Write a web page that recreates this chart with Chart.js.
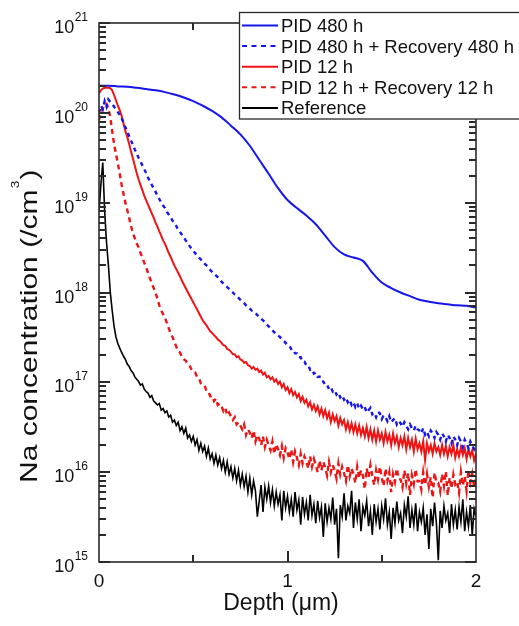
<!DOCTYPE html>
<html>
<head>
<meta charset="utf-8">
<script src="https://cdn.jsdelivr.net/npm/chart.js@4/dist/chart.umd.min.js"></script>
<style>
  html, body { margin: 0; padding: 0; background: #fff; }
  canvas { display: block; }
</style>
</head>
<body>
<canvas id="naChart" width="519" height="626"></canvas>
<script>
// depth grid (um) shared by the SIMS profiles
const depth = [
  0.00, 0.01, 0.02, 0.03, 0.04, 0.05, 0.06, 0.07, 0.08, 0.09,
  0.10, 0.11, 0.12, 0.13, 0.14, 0.15, 0.16, 0.17, 0.18, 0.19,
  0.20, 0.21, 0.22, 0.23, 0.24, 0.25, 0.26, 0.27, 0.28, 0.29,
  0.30, 0.31, 0.32, 0.33, 0.34, 0.35, 0.36, 0.37, 0.38, 0.39,
  0.40, 0.41, 0.42, 0.43, 0.44, 0.45, 0.46, 0.47, 0.48, 0.49,
  0.50, 0.51, 0.52, 0.53, 0.54, 0.55, 0.56, 0.57, 0.58, 0.59,
  0.60, 0.61, 0.62, 0.63, 0.64, 0.65, 0.66, 0.67, 0.68, 0.69,
  0.70, 0.71, 0.72, 0.73, 0.74, 0.75, 0.76, 0.77, 0.78, 0.79,
  0.80, 0.81, 0.82, 0.83, 0.84, 0.85, 0.86, 0.87, 0.88, 0.89,
  0.90, 0.91, 0.92, 0.93, 0.94, 0.95, 0.96, 0.97, 0.98, 0.99,
  1.00, 1.01, 1.02, 1.03, 1.04, 1.05, 1.06, 1.07, 1.08, 1.09,
  1.10, 1.11, 1.12, 1.13, 1.14, 1.15, 1.16, 1.17, 1.18, 1.19,
  1.20, 1.21, 1.22, 1.23, 1.24, 1.25, 1.26, 1.27, 1.28, 1.29,
  1.30, 1.31, 1.32, 1.33, 1.34, 1.35, 1.36, 1.37, 1.38, 1.39,
  1.40, 1.41, 1.42, 1.43, 1.44, 1.45, 1.46, 1.47, 1.48, 1.49,
  1.50, 1.51, 1.52, 1.53, 1.54, 1.55, 1.56, 1.57, 1.58, 1.59,
  1.60, 1.61, 1.62, 1.63, 1.64, 1.65, 1.66, 1.67, 1.68, 1.69,
  1.70, 1.71, 1.72, 1.73, 1.74, 1.75, 1.76, 1.77, 1.78, 1.79,
  1.80, 1.81, 1.82, 1.83, 1.84, 1.85, 1.86, 1.87, 1.88, 1.89,
  1.90, 1.91, 1.92, 1.93, 1.94, 1.95, 1.96, 1.97, 1.98, 1.99,
  2.00
];

// PID 480 h is smooth, so it only needs a coarse grid
const depthPid480 = [
  0.00, 0.05, 0.10, 0.15, 0.20, 0.25, 0.30, 0.35, 0.40, 0.45,
  0.50, 0.55, 0.60, 0.65, 0.70, 0.75, 0.80, 0.85, 0.90, 0.95,
  1.00, 1.05, 1.10, 1.15, 1.20, 1.25, 1.30, 1.35, 1.40, 1.45,
  1.50, 1.55, 1.60, 1.65, 1.70, 1.75, 1.80, 1.85, 1.90, 1.95,
  2.00
];

// Na concentration (/cm3)
const naPid480 = [
  2.0e20, 2.0e20, 1.97e20, 1.95e20, 1.9e20, 1.84e20, 1.78e20, 1.7e20, 1.6e20, 1.48e20,
  1.35e20, 1.2e20, 1.05e20, 8.9e19, 7.2e19, 5.75e19, 4.3e19, 3.0e19, 2.1e19, 1.45e19,
  1.07e19, 8.7e18, 7.2e18, 5.75e18, 4.3e18, 3.2e18, 2.65e18, 2.45e18, 2.25e18, 1.66e18,
  1.29e18, 1.12e18, 1.0e18, 9.1e17, 8.3e17, 7.9e17, 7.6e17, 7.4e17, 7.2e17, 7.1e17,
  6.8e17
];

const naPid480Rec = [
  1.0e20, 1.2e20, 1.1e20, 1.35e20, 1.17e20, 1.41e20, 1.32e20, 1.26e20, 1.17e20, 1.1e20,
  1.02e20, 9.5e19, 8.7e19, 7.8e19, 6.9e19, 6.2e19, 5.5e19, 4.9e19, 4.4e19, 3.9e19,
  3.5e19, 3.16e19, 2.9e19, 2.6e19, 2.35e19, 2.14e19, 1.9e19, 1.74e19, 1.58e19, 1.45e19,
  1.32e19, 1.2e19, 1.1e19, 1.0e19, 9.3e18, 8.7e18, 7.9e18, 7.4e18, 6.9e18, 6.3e18,
  5.9e18, 5.5e18, 5.0e18, 4.7e18, 4.4e18, 4.1e18, 3.8e18, 3.55e18, 3.3e18, 3.1e18,
  2.9e18, 2.75e18, 2.57e18, 2.45e18, 2.34e18, 2.19e18, 2.09e18, 2.0e18, 1.9e18, 1.78e18,
  1.7e18, 1.62e18, 1.55e18, 1.48e18, 1.41e18, 1.32e18, 1.26e18, 1.2e18, 1.15e18, 1.1e18,
  1.05e18, 1.0e18, 9.5e17, 9.1e17, 8.7e17, 8.3e17, 7.9e17, 7.6e17, 7.2e17, 6.9e17,
  6.6e17, 6.3e17, 6.2e17, 5.9e17, 5.6e17, 5.4e17, 5.1e17, 4.9e17, 4.7e17, 4.4e17,
  4.2e17, 4.0e17, 3.8e17, 3.6e17, 3.5e17, 3.3e17, 3.2e17, 3.0e17, 2.9e17, 2.75e17,
  2.6e17, 2.55e17, 2.35e17, 2.35e17, 2.1e17, 2.1e17, 1.9e17, 1.9e17, 1.7e17, 1.7e17,
  1.55e17, 1.55e17, 1.38e17, 1.4e17, 1.25e17, 1.28e17, 1.15e17, 1.16e17, 1.04e17, 1.02e17,
  9.3e16, 9.4e16, 8.4e16, 8.8e16, 7.9e16, 8.2e16, 7.3e16, 7.7e16, 6.8e16, 7.2e16,
  6.4e16, 6.8e16, 6.0e16, 6.4e16, 5.6e16, 6.0e16, 5.3e16, 5.8e16, 5.1e16, 5.5e16,
  5.0e16, 5.3e16, 4.6e16, 4.9e16, 5.2e16, 4.4e16, 4.6e16, 4.1e16, 4.7e16, 4.5e16,
  3.9e16, 4.3e16, 4.1e16, 3.7e16, 4.2e16, 3.6e16, 3.8e16, 4.0e16, 3.4e16, 3.7e16,
  3.5e16, 3.2e16, 3.6e16, 3.3e16, 3.0e16, 3.4e16, 3.1e16, 2.9e16, 3.3e16, 3.0e16,
  2.9e16, 2.7e16, 3.1e16, 2.6e16, 2.8e16, 2.5e16, 2.9e16, 2.7e16, 2.4e16, 2.8e16,
  2.6e16, 2.3e16, 2.7e16, 2.5e16, 2.2e16, 2.6e16, 2.4e16, 2.1e16, 2.5e16, 2.3e16,
  2.0e16, 2.4e16, 2.2e16, 1.9e16, 2.3e16, 2.1e16, 1.85e16, 2.2e16, 2.0e16, 1.8e16,
  2.0e16
];

const naPid12 = [
  1.66e20, 1.78e20, 1.86e20, 1.9e20, 1.9e20, 1.9e20, 1.88e20, 1.78e20, 1.58e20, 1.38e20,
  1.2e20, 1.07e20, 9.3e19, 7.6e19, 6.3e19, 5.4e19, 4.5e19, 3.7e19, 3.1e19, 2.57e19,
  2.14e19, 1.82e19, 1.58e19, 1.38e19, 1.2e19, 1.07e19, 9.5e18, 8.5e18, 7.6e18, 6.8e18,
  6.0e18, 5.4e18, 4.8e18, 4.3e18, 3.8e18, 3.5e18, 3.1e18, 2.75e18, 2.5e18, 2.24e18,
  2.0e18, 1.82e18, 1.66e18, 1.51e18, 1.35e18, 1.23e18, 1.12e18, 1.02e18, 9.3e17, 8.5e17,
  7.8e17, 7.1e17, 6.5e17, 5.9e17, 5.4e17, 4.9e17, 4.6e17, 4.3e17, 4.0e17, 3.7e17,
  3.55e17, 3.35e17, 3.2e17, 3.0e17, 2.9e17, 2.75e17, 2.6e17, 2.55e17, 2.35e17, 2.3e17,
  2.2e17, 2.05e17, 2.05e17, 1.9e17, 1.95e17, 1.8e17, 1.76e17, 1.65e17, 1.68e17, 1.55e17,
  1.52e17, 1.42e17, 1.48e17, 1.38e17, 1.42e17, 1.3e17, 1.35e17, 1.22e17, 1.28e17, 1.14e17,
  1.18e17, 1.08e17, 1.14e17, 1.02e17, 1.08e17, 9.6e16, 1.02e17, 8.8e16, 9.6e16, 8.2e16,
  8.8e16, 7.6e16, 8.4e16, 7.2e16, 7.8e16, 6.8e16, 7.4e16, 6.2e16, 6.9e16, 5.9e16,
  6.4e16, 5.4e16, 6.0e16, 5.0e16, 5.6e16, 4.8e16, 5.4e16, 4.4e16, 5.1e16, 4.2e16,
  4.9e16, 4.0e16, 4.6e16, 3.6e16, 4.4e16, 3.7e16, 4.2e16, 3.3e16, 4.0e16, 3.4e16,
  3.8e16, 3.0e16, 3.6e16, 2.9e16, 3.5e16, 2.8e16, 3.4e16, 2.7e16, 3.3e16, 2.6e16,
  3.1e16, 2.5e16, 3.2e16, 2.4e16, 3.0e16, 2.3e16, 2.9e16, 2.2e16, 2.9e16, 2.3e16,
  2.7e16, 2.1e16, 2.8e16, 2.2e16, 2.6e16, 2.0e16, 2.7e16, 2.1e16, 2.5e16, 1.9e16,
  2.4e16, 2.0e16, 2.5e16, 1.8e16, 2.4e16, 1.9e16, 2.3e16, 1.7e16, 2.35e16, 1.8e16,
  2.1e16, 1.7e16, 2.2e16, 1.35e16, 2.1e16, 1.7e16, 2.0e16, 1.6e16, 2.1e16, 1.7e16,
  1.9e16, 1.55e16, 2.0e16, 1.6e16, 1.95e16, 1.5e16, 1.9e16, 1.6e16, 2.0e16, 1.45e16,
  1.8e16, 1.5e16, 1.9e16, 1.55e16, 1.85e16, 1.4e16, 1.8e16, 1.5e16, 1.75e16, 1.35e16,
  1.6e16
];

const naPid12Rec = [
  8.3e19, 1.0e20, 1.12e20, 1.26e20, 1.26e20, 1.12e20, 8.9e19, 6.3e19, 4.5e19, 3.5e19,
  2.75e19, 2.1e19, 1.58e19, 1.26e19, 1.0e19, 8.3e18, 6.8e18, 5.5e18, 4.6e18, 4.0e18,
  3.5e18, 3.2e18, 2.75e18, 2.45e18, 2.15e18, 1.9e18, 1.66e18, 1.45e18, 1.26e18, 1.12e18,
  1.0e18, 8.5e17, 7.2e17, 6.3e17, 5.75e17, 5.25e17, 4.6e17, 4.0e17, 3.5e17, 3.2e17,
  2.8e17, 2.5e17, 2.2e17, 2.15e17, 1.9e17, 1.8e17, 1.75e17, 1.6e17, 1.55e17, 1.4e17,
  1.32e17, 1.3e17, 1.15e17, 1.12e17, 9.8e16, 9.5e16, 9.3e16, 8.0e16, 7.9e16, 7.0e16,
  7.1e16, 6.2e16, 6.6e16, 5.6e16, 5.8e16, 5.4e16, 4.8e16, 5.2e16, 4.3e16, 4.6e16,
  4.2e16, 3.8e16, 4.1e16, 3.4e16, 3.6e16, 3.3e16, 3.0e16, 3.4e16, 2.6e16, 3.0e16,
  2.75e16, 2.4e16, 2.9e16, 2.2e16, 2.6e16, 2.35e16, 2.0e16, 2.5e16, 1.9e16, 2.3e16,
  2.0e16, 1.75e16, 2.2e16, 1.6e16, 2.05e16, 1.8e16, 1.55e16, 1.95e16, 1.45e16, 1.85e16,
  1.66e16, 1.4e16, 1.8e16, 1.3e16, 1.7e16, 1.45e16, 1.2e16, 1.6e16, 1.25e16, 1.5e16,
  1.32e16, 1.1e16, 1.5e16, 1.15e16, 1.4e16, 1.2e16, 1.0e16, 1.35e16, 1.05e16, 1.3e16,
  1.12e16, 9.2e15, 1.3e16, 1.0e16, 1.2e16, 1.05e16, 8.5e15, 1.25e16, 9.4e15, 1.15e16,
  9.8e15, 8.0e15, 1.2e16, 9.0e15, 1.1e16, 9.5e15, 7.6e15, 1.15e16, 8.6e15, 1.05e16,
  9.1e15, 6.5e15, 1.1e16, 8.8e15, 1.2e16, 9.0e15, 7.2e15, 1.05e16, 8.3e15, 1.15e16,
  8.7e15, 7.0e15, 1.1e16, 8.1e15, 1.0e16, 6.0e15, 9.5e15, 7.8e15, 1.1e16, 8.4e15,
  8.3e15, 6.8e15, 1.05e16, 7.5e15, 9.8e15, 5.6e15, 9.2e15, 7.4e15, 1.08e16, 7.9e15,
  8.0e15, 6.4e15, 1.0e16, 7.2e15, 9.6e15, 6.9e15, 8.8e15, 5.2e15, 9.9e15, 7.6e15,
  7.6e15, 6.1e15, 9.5e15, 7.0e15, 1.02e16, 5.5e15, 8.7e15, 6.6e15, 9.4e15, 7.3e15,
  7.8e15, 5.9e15, 1.0e16, 7.1e15, 9.0e15, 6.2e15, 1.05e16, 7.7e15, 9.6e15, 6.8e15,
  8.5e15
];

const naReference = [
  8.0e18, 1.6e19, 2.8e19, 8.0e18, 3.6e18, 2.0e18, 1.0e18, 6.3e17, 4.2e17, 3.2e17,
  2.7e17, 2.4e17, 2.15e17, 1.95e17, 1.8e17, 1.6e17, 1.5e17, 1.35e17, 1.28e17, 1.15e17,
  1.08e17, 1.02e17, 9.3e16, 9.6e16, 8.4e16, 7.9e16, 7.6e16, 6.8e16, 7.1e16, 6.2e16,
  5.9e16, 5.6e16, 5.8e16, 4.9e16, 5.1e16, 4.6e16, 4.8e16, 4.1e16, 4.3e16, 3.6e16,
  3.8e16, 3.3e16, 3.6e16, 2.9e16, 3.2e16, 2.7e16, 3.1e16, 2.4e16, 2.6e16, 2.2e16,
  2.5e16, 2.0e16, 2.3e16, 1.75e16, 2.1e16, 1.7e16, 1.95e16, 1.5e16, 1.85e16, 1.4e16,
  1.6e16, 1.25e16, 1.55e16, 1.2e16, 1.45e16, 1.1e16, 1.35e16, 1.0e16, 1.3e16, 9.5e15,
  1.15e16, 8.6e15, 1.1e16, 8.0e15, 1.05e16, 7.2e15, 9.5e15, 6.9e15, 9.0e15, 6.0e15,
  8.6e15, 5.6e15, 8.0e15, 6.2e15, 3.2e15, 4.8e15, 7.2e15, 3.6e15, 6.8e15, 5.0e15,
  7.0e15, 4.6e15, 6.4e15, 4.2e15, 6.0e15, 4.4e15, 5.6e15, 2.9e15, 6.2e15, 4.0e15,
  5.4e15, 3.6e15, 5.0e15, 3.2e15, 6.0e15, 3.8e15, 4.9e15, 2.6e15, 5.3e15, 3.4e15,
  4.6e15, 2.9e15, 5.6e15, 3.3e15, 4.4e15, 2.7e15, 4.8e15, 3.1e15, 4.1e15, 1.9e15,
  4.5e15, 2.8e15, 4.0e15, 3.0e15, 5.2e15, 2.6e15, 3.9e15, 1.1e15, 4.3e15, 3.2e15,
  5.8e15, 2.9e15, 4.2e15, 3.5e15, 6.2e15, 2.4e15, 4.6e15, 3.0e15, 5.0e15, 2.2e15,
  4.1e15, 3.3e15, 4.8e15, 2.5e15, 3.7e15, 2.0e15, 4.4e15, 2.8e15, 3.9e15, 2.3e15,
  4.2e15, 3.0e15, 5.1e15, 2.6e15, 3.6e15, 1.8e15, 4.0e15, 2.7e15, 4.7e15, 2.9e15,
  3.5e15, 2.1e15, 4.3e15, 3.2e15, 5.4e15, 2.4e15, 3.8e15, 2.6e15, 4.5e15, 2.2e15,
  3.6e15, 2.8e15, 4.0e15, 2.0e15, 3.4e15, 1.4e15, 3.9e15, 2.5e15, 4.6e15, 2.7e15,
  1.05e15, 3.7e15, 2.4e15, 4.2e15, 2.9e15, 3.5e15, 2.1e15, 4.4e15, 2.6e15, 3.8e15,
  2.3e15, 4.1e15, 2.8e15, 5.0e15, 2.2e15, 3.6e15, 2.5e15, 4.3e15, 2.0e15, 3.9e15,
  3.2e15
];

const seriesLabels = [
  "PID 480 h",
  "PID 480 h + Recovery 480 h",
  "PID 12 h",
  "PID 12 h + Recovery 12 h",
  "Reference"
];

// axis tick labels
const yDecades = [1e15, 1e16, 1e17, 1e18, 1e19, 1e20, 1e21];
const yExponents = ["15", "16", "17", "18", "19", "20", "21"];
const xTicks = [0, 1, 2];
const xTickLabels = ["0", "1", "2"];

const BLUE = "#1515ee";
const RED = "#ee1414";
const BLACK = "#000000";
const AXIS = "#2a2a2a";
const FONT = '"Liberation Sans", Arial, Helvetica, sans-serif';

function toPoints(xs, ys) {
    return ys.map((v, i) => ({ x: xs[i], y: v }));
}

// style for each series (also used by the legend box)
const seriesStyle = [
    { color: BLUE, dash: [], width: 2 },
    { color: BLUE, dash: [4, 4], width: 2.4 },
    { color: RED, dash: [], width: 2 },
    { color: RED, dash: [5, 4], width: 2.4 },
    { color: BLACK, dash: [], width: 1.6 }
];

const seriesData = [
    toPoints(depthPid480, naPid480),
    toPoints(depth, naPid480Rec),
    toPoints(depth, naPid12),
    toPoints(depth, naPid12Rec),
    toPoints(depth, naReference)
];

const datasets = seriesData.map((pts, i) => ({
    label: seriesLabels[i],
    data: pts,
    borderColor: seriesStyle[i].color,
    borderDash: seriesStyle[i].dash,
    borderWidth: seriesStyle[i].width,
    pointRadius: 0,
    fill: false,
    cubicInterpolationMode: i === 0 ? "monotone" : "default",
    tension: 0
}));

// frame, inward ticks, tick labels, axis titles and the legend box
const axesPlugin = {
    id: "axesPlugin",
    afterDraw(chart) {
        const { ctx, chartArea: a, scales } = chart;
        const x = scales.x, y = scales.y;
        ctx.save();
        ctx.setLineDash([]);
        ctx.strokeStyle = AXIS;
        ctx.lineWidth = 1.6;
        ctx.strokeRect(a.left, a.top, a.right - a.left, a.bottom - a.top);

        // log ticks on the left and right edges, pointing inward
        ctx.fillStyle = AXIS;
        yDecades.forEach((dec, k) => {
            for (let m = 1; m <= 9; m++) {
                if (k === yDecades.length - 1 && m > 1) break;
                const py = Math.round(y.getPixelForValue(dec * m));
                const len = m === 1 ? 11 : 7;
                ctx.fillRect(a.left, py - 1, len, 2);
                ctx.fillRect(a.right - len, py - 1, len, 2);
            }
        });
        // depth ticks on the bottom and top edges
        [0.5, 1, 1.5].forEach(v => {
            const px = Math.round(x.getPixelForValue(v));
            const len = v === 1 ? 11 : 7;
            ctx.fillRect(px - 1, a.bottom - len, 2, len);
            ctx.fillRect(px - 1, a.top, 2, len);
        });

        ctx.fillStyle = "#111";
        // y tick labels as 10^n
        yDecades.forEach((dec, k) => {
            const py = y.getPixelForValue(dec);
            ctx.font = "12px " + FONT;
            ctx.textAlign = "right";
            ctx.textBaseline = "alphabetic";
            const supW = ctx.measureText(yExponents[k]).width;
            ctx.fillText(yExponents[k], 88, py - 2);
            ctx.font = "18px " + FONT;
            ctx.fillText("10", 88 - supW - 0.5, py + 10);
        });

        // x tick labels
        ctx.font = "19px " + FONT;
        ctx.textAlign = "center";
        xTicks.forEach((v, k) => {
            ctx.fillText(xTickLabels[k], x.getPixelForValue(v), 587);
        });

        // axis titles
        ctx.font = "23px " + FONT;
        ctx.fillText("Depth (\u03bcm)", 281, 610);

        ctx.save();
        ctx.translate(37, 483);
        ctx.rotate(-Math.PI / 2);
        ctx.scale(1.25, 1);
        ctx.textAlign = "left";
        ctx.font = "24px " + FONT;
        const main = "Na concentration (/cm";
        ctx.fillText(main, 0, 0);
        let off = ctx.measureText(main).width;
        ctx.font = "11px " + FONT;
        ctx.fillText("3", off + 1, -18);
        off += ctx.measureText("3").width + 2;
        ctx.font = "24px " + FONT;
        ctx.fillText(")", off, 0);
        ctx.restore();

        // legend box, spills past the right edge of the plot
        ctx.fillStyle = "#fff";
        ctx.fillRect(239.5, 12.5, 300, 106.5);
        ctx.strokeStyle = AXIS;
        ctx.lineWidth = 1.3;
        ctx.strokeRect(239.5, 12.5, 300, 106.5);

        ctx.font = "18.5px " + FONT;
        ctx.textAlign = "left";
        seriesLabels.forEach((lab, i) => {
            const ly = 25.5 + 20.6 * i;
            const st = seriesStyle[i];
            ctx.strokeStyle = st.color;
            ctx.lineWidth = 2;
            ctx.setLineDash(st.dash.length ? [5, 4.5] : []);
            ctx.beginPath();
            ctx.moveTo(242, ly);
            ctx.lineTo(278, ly);
            ctx.stroke();
            ctx.fillStyle = "#111";
            ctx.fillText(lab, 281, ly + 6.5);
        });
        ctx.restore();
    }
};

new Chart(document.getElementById("naChart"), {
    type: "line",
    data: { datasets: datasets },
    options: {
        responsive: false,
        animation: false,
        layout: { padding: { top: 23, right: 43, left: 0, bottom: 0 } },
        plugins: {
            legend: { display: false },
            tooltip: { enabled: false }
        },
        scales: {
            x: {
                type: "linear",
                min: 0,
                max: 2,
                ticks: { display: false },
                grid: { display: false },
                border: { display: false },
                afterFit: s => { s.height = 64; }
            },
            y: {
                type: "logarithmic",
                min: 1e15,
                max: 1e21,
                ticks: { display: false },
                grid: { display: false },
                border: { display: false },
                afterFit: s => { s.width = 99; }
            }
        }
    },
    plugins: [axesPlugin]
});
</script>
</body>
</html>
